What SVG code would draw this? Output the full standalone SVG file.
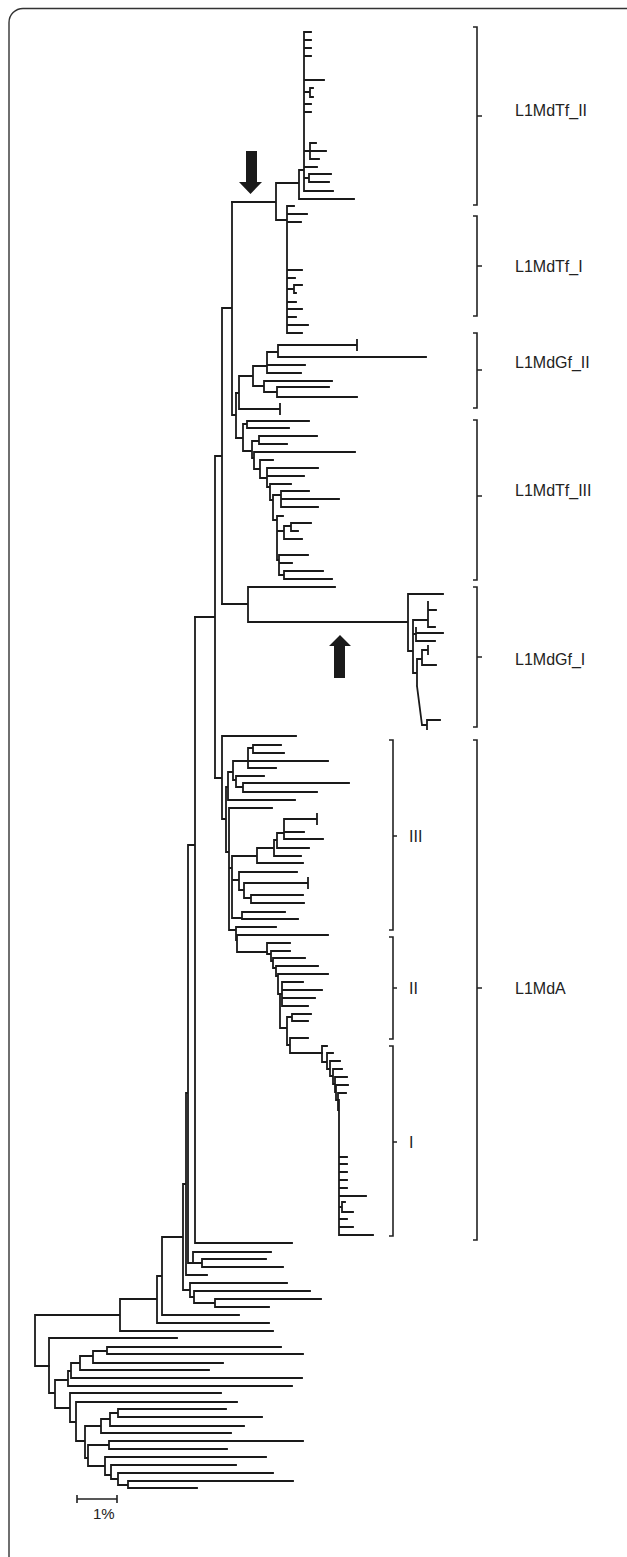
<svg xmlns="http://www.w3.org/2000/svg" width="627" height="1557" viewBox="0 0 627 1557">
<style>
.t{fill:none;stroke:#1a1a1a;stroke-width:1.8;stroke-linecap:square}
.b{fill:none;stroke:#222;stroke-width:1.6}
.lab{font-family:"Liberation Sans",Arial,sans-serif;font-size:16px;fill:#222}
.ar{fill:#1a1a1a}
</style>
<rect x="9" y="8.5" width="650" height="1565" rx="14" fill="none" stroke="#333" stroke-width="1.4"/>
<g id="connectors">
<path id="clade-Tf_II" class="t" d="M304 32V191M304 32H311M304 40H311M304 48H311M304 56H311M304 80H324M304 92H310M310 88V97M310 88H313M310 97H313M304 104H311M304 112H311M304 151H310M310 143V159M310 143H316M310 151H326M310 159H319M304 167H317M304 178H309M309 174V182M309 174H331M309 182H329M304 191H333M299 170V199M299 170H304M299 199H354M277 183H299"/>
<path id="clade-Tf_I" class="t" d="M276 183V220M276 220H287M287 206V333M287 206H294M287 214H307M287 222H301M287 270H302M287 278H295M287 289H294M294 285V293M294 285H302M294 293H296M287 302H296M287 309H302M287 317H296M287 325H308M287 333H302M232 202H276"/>
<path id="backbone-upper" class="t" d="M232 202V415M222 308H232M222 308V604M232 415H236M236 393V438M215 456V778M215 456H222M195 617H215"/>
<path id="clade-Gf_II" class="t" d="M236 393H239M239 376V409M239 409H280M280 404V414M239 376H253M253 366V386M253 366H267M267 352V373M267 352H278M278 345V357M278 345H357M357 340V350M278 357H426M267 365H305M267 373H301M253 386H264M264 381V392M264 381H332M264 392H277M277 387V397M277 387H329M277 397H357"/>
<path id="clade-Tf_III" class="t" d="M236 438H243M243 424V451M243 424H247M247 421V428M247 421H309M247 428H289M243 451H252M252 441V458M252 441H259M259 436V444M259 436H317M259 444H287M252 458H254M254 452V469M254 452H355M254 469H260M260 460V478M260 460H273M260 478H267M267 468V487M267 468H318M267 476H304M267 487H270M270 484V500M270 484H291M270 500H273M273 495V520M273 495H281M281 491V507M281 491H309M281 499H339M281 507H318M273 520H277M277 516V560M277 516H283M277 531H284M284 526V539M284 526H291M291 523V531M291 523H311M291 531H298M284 539H302M277 560H279M279 555V575M279 555H308M279 563H292M279 575H284M284 571V579M284 571H323M284 579H332"/>
<path id="clade-Gf_I" class="t" d="M222 604H248M248 587V622M248 587H335M248 622H408M408 594V651M408 594H443M408 651H413M413 620V673M413 620H428M428 602V627M428 610H436M428 627H435M413 634H416M416 628V641M416 633H443M416 641H435M413 673H417M417 659V686M417 659H422M422 650V665M422 650H428M428 646V654M422 665H436M417 686L422 725M422 725H427M427 720V729M427 720H440"/>
<path id="clade-III" class="t" d="M215 778H222M222 736V819M222 736H296M222 819H226M226 787V852M226 787H228M228 772V800M228 800H295M228 772H233M233 761V780M233 761H248M248 748V768M248 748H253M253 745V753M253 745H281M253 753H284M248 761H328M248 768H276M233 780H236M236 776V787M236 776H264M236 787H243M243 783V792M243 783H349M243 792H317M226 852H229M229 808V930M229 808H272M229 868H232M232 856V918M232 856H257M257 848V863M257 863H303M257 848H274M274 840V856M274 856H301M274 840H277M277 833V848M277 848H309M277 833H284M284 819V839M284 819H317M317 814V824M284 832H304M284 839H323M232 880H239M239 872V890M239 872H297M239 890H244M244 883V898M244 883H308M308 878V888M244 898H251M251 895V903M251 895H303M251 903H304M232 918H242M242 912V919M242 912H285M242 919H298M229 930H236M236 927V940M236 927H276M236 940H237M237 935V952M237 935H328M237 952H267"/>
<path id="clade-II" class="t" d="M267 943V954M267 943H290M267 954H271M271 951V961M271 951H290M271 961H273M273 958V968M273 958H305M273 968H276M276 966V976M276 966H318M276 976H278M278 974V994M278 974H328M278 994H280M280 994V1028M280 994H282M282 982V1006M282 982H303M282 990H322M282 998H315M282 1006H308M280 1028H287M287 1017V1045M287 1017H292M292 1014V1021M292 1014H311M292 1021H308M287 1045H290M290 1038V1053M290 1038H308M290 1053H322"/>
<path id="clade-I" class="t" d="M322 1046V1062M322 1046H327M322 1062H327M327 1053V1069M327 1053H333M327 1069H330M330 1061V1076M330 1061H340M330 1076H333M333 1069V1084M333 1069H342M333 1084H335M335 1077V1092M335 1077H347M335 1092H336M336 1085V1100M336 1085H348M336 1100H338M338 1093V1110M338 1093H346M338 1110H339M339 1100V1235M339 1157H347M339 1164H347M339 1172H347M339 1180H347M339 1188H347M339 1196H366M339 1207H342M342 1202V1212M342 1202H345M342 1212H353M339 1219H347M339 1227H353M339 1235H373"/>
<path id="backbone-lower" class="t" d="M195 617V1243M195 1243H292M188 845H195M188 845V1263M188 1263H193M193 1252V1263M193 1252H271M193 1263H202M202 1259V1267M202 1259H266M202 1267H283M186 1093V1275M186 1093H188M186 1275H207M183 1184V1290M183 1184H186M183 1290H190M190 1283V1297M190 1283H287M190 1297H194M194 1291V1303M194 1291H310M194 1303H215M215 1299V1307M215 1299H321M215 1307H269M162 1237V1315M162 1237H183M162 1315H239M157 1276V1323M157 1276H162M157 1323H269M120 1299V1331M120 1299H157M120 1331H273M35 1315V1366M35 1315H120M35 1366H49"/>
<path id="clade-outgroup" class="t" d="M49 1338V1393M49 1338H177M49 1393H55M55 1380V1408M55 1380H68M55 1408H70M68 1371V1386M68 1371H71M68 1386H292M71 1363V1378M71 1363H80M71 1378H302M80 1356V1370M80 1356H93M80 1370H209M93 1351V1363M93 1351H107M93 1363H223M107 1347V1354M107 1347H281M107 1354H303M70 1393V1422M70 1393H221M70 1422H76M76 1402V1441M76 1402H237M76 1441H85M85 1426V1458M85 1426H101M85 1458H88M101 1419V1433M101 1419H110M101 1433H231M110 1413V1426M110 1413H118M110 1426H244M118 1409V1417M118 1409H226M118 1417H262M88 1445V1466M88 1445H109M109 1441V1449M109 1441H303M109 1449H227M88 1466H105M105 1457V1475M105 1457H266M105 1475H111M111 1465V1479M111 1465H236M111 1479H118M118 1473V1485M118 1473H273M118 1485H128M128 1481V1488M128 1481H293M128 1488H197"/>
</g>
<g id="arrow-down"><path class="ar" d="M246 151H257V182H262L250.5 194L239 182H246Z"/></g>
<g id="arrow-up"><path class="ar" d="M334 678H345V646H351L340 635L329 646H334Z"/></g>
<g id="label-Tf_II"><path class="b" d="M473 27H477V205H473M477 116H482"/><text class="lab" x="515" y="116">L1MdTf_II</text></g>
<g id="label-Tf_I"><path class="b" d="M473 216H477V316H473M477 266H482"/><text class="lab" x="515" y="272">L1MdTf_I</text></g>
<g id="label-Gf_II"><path class="b" d="M473 333H477V408H473M477 370H482"/><text class="lab" x="515" y="368">L1MdGf_II</text></g>
<g id="label-Tf_III"><path class="b" d="M473 420H477V580H473M477 496H482"/><text class="lab" x="515" y="496">L1MdTf_III</text></g>
<g id="label-Gf_I"><path class="b" d="M473 587H477V727H473M477 657H482"/><text class="lab" x="515" y="665">L1MdGf_I</text></g>
<g id="label-A"><path class="b" d="M473 740H477V1240H473M477 988H482"/><text class="lab" x="515" y="994">L1MdA</text></g>
<g id="label-III"><path class="b" d="M389 740H393V930H389M393 836H397"/><text class="lab" x="409" y="842">III</text></g>
<g id="label-II"><path class="b" d="M389 937H393V1039H389M393 988H397"/><text class="lab" x="409" y="994">II</text></g>
<g id="label-I"><path class="b" d="M389 1046H393V1236H389M393 1142H397"/><text class="lab" x="409" y="1148">I</text></g>
<g id="scale-bar"><path class="b" d="M77 1499H117M77 1495V1503M117 1495V1503"/><text class="lab" x="93" y="1519" style="font-size:15px">1%</text></g>
</svg>
